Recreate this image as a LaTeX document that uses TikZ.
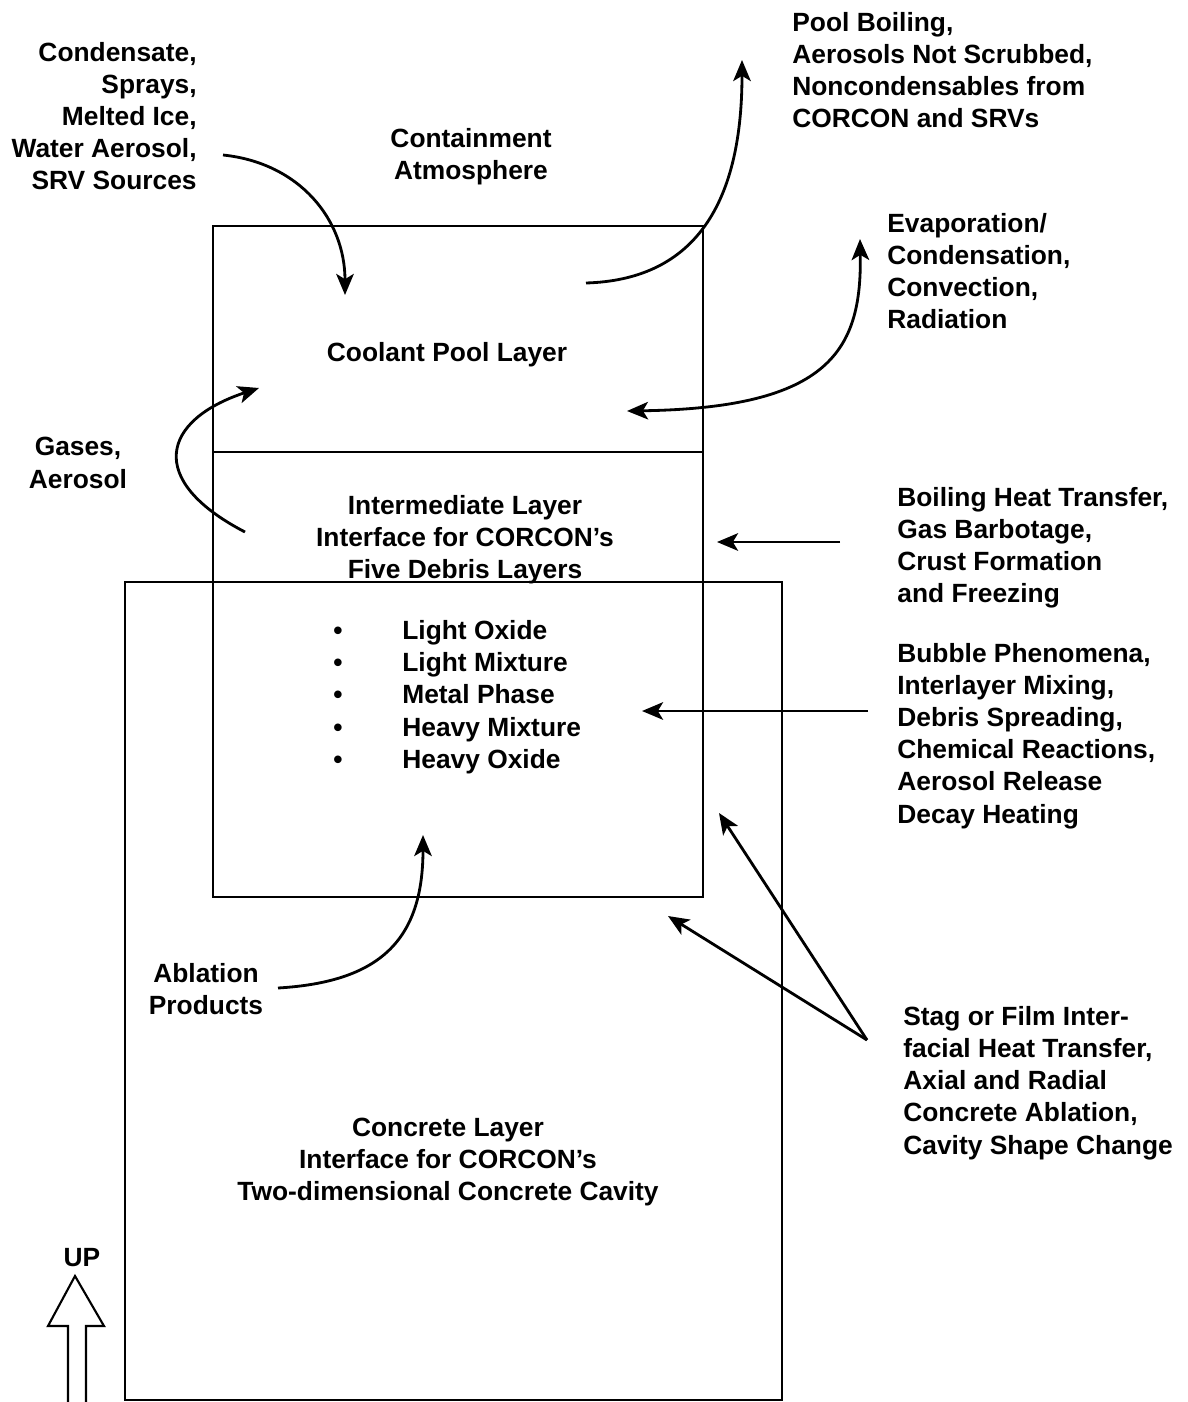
\documentclass[tikz,border=0pt]{standalone}
\usepackage{fontspec}
\setmainfont{Liberation Sans}
\usetikzlibrary{arrows.meta}
\begin{document}
\begin{tikzpicture}[x=0.02cm,y=-0.02cm,
  txt/.style={font=\fontsize{15}{18.3}\selectfont\bfseries, inner sep=0pt},
  boxline/.style={line width=1.6pt},
  arr/.style={line width=1.6pt, -{Stealth[length=12pt,width=10pt,inset=3pt]}},
  darr/.style={line width=1.6pt, {Stealth[length=12pt,width=10pt,inset=3pt]}-{Stealth[length=12pt,width=10pt,inset=3pt]}}]
\useasboundingbox (0,0) rectangle (1187,1402);

% boxes
\draw[boxline] (213,226) rectangle (703,897);
\draw[boxline] (213,452) -- (703,452);
\draw[boxline] (125,1400) -- (125,582) -- (782,582) -- (782,1400) -- cycle;

% texts
\node[txt, anchor=east, align=right] (cond) at (197,116) {Condensate,\\Sprays,\\Melted Ice,\\Water Aerosol,\\SRV Sources};
\node[txt, align=center] (atm) at (471,157) {Containment\\Atmosphere};
\node[txt, anchor=west, align=left] (pool) at (792,70) {Pool Boiling,\\Aerosols Not Scrubbed,\\Noncondensables from\\CORCON and SRVs};
\node[txt, anchor=west, align=left] (evap) at (887,271) {Evaporation/\\Condensation,\\Convection,\\Radiation};
\node[txt] (cool) at (447,355) {Coolant Pool Layer};
\node[txt, align=center] (gas) at (78,463) {Gases,\\Aerosol};
\node[txt, align=center] (inter) at (465,540) {Intermediate Layer\\Interface for CORCON's\\Five Debris Layers};
\node[txt, anchor=west, align=left] (boil) at (897,548) {Boiling Heat Transfer,\\Gas Barbotage,\\Crust Formation\\and Freezing};
\node[txt, anchor=base] (b1) at (338,639) {\textbullet};
\node[txt, anchor=base] (b2) at (338,671) {\textbullet};
\node[txt, anchor=base] (b3) at (338,703) {\textbullet};
\node[txt, anchor=base] (b4) at (338,736) {\textbullet};
\node[txt, anchor=base] (b5) at (338,768) {\textbullet};
\node[txt, anchor=base west] (l1) at (402,639) {Light Oxide};
\node[txt, anchor=base west] (l2) at (402,671) {Light Mixture};
\node[txt, anchor=base west] (l3) at (402,703) {Metal Phase};
\node[txt, anchor=base west] (l4) at (402,736) {Heavy Mixture};
\node[txt, anchor=base west] (l5) at (402,768) {Heavy Oxide};
\node[txt, anchor=west, align=left] (bub) at (897,736) {Bubble Phenomena,\\Interlayer Mixing,\\Debris Spreading,\\Chemical Reactions,\\Aerosol Release\\Decay Heating};
\node[txt, align=center] (abl) at (206,989) {Ablation\\Products};
\node[txt, anchor=west, align=left] (stag) at (903,1083) {Stag or Film Inter-\\facial Heat Transfer,\\Axial and Radial\\Concrete Ablation,\\Cavity Shape Change};
\node[txt, align=center] (conc) at (448,1162) {Concrete Layer\\Interface for CORCON's\\Two-dimensional Concrete Cavity};
\node[txt] (up) at (82,1258) {UP};

% connector end points
\coordinate (c1s) at (223,155);
\coordinate (c1e) at (345,295);
\coordinate (c2s) at (586,283);
\coordinate (c2e) at (742,60);
\coordinate (c3a) at (627,411);
\coordinate (c3b) at (860,239);
\coordinate (c4s) at (245,532);
\coordinate (c4e) at (259,388);
\coordinate (c5s) at (840,542);
\coordinate (c5e) at (717,542);
\coordinate (c6s) at (868,711);
\coordinate (c6e) at (642,711);
\coordinate (c7s) at (278,988);
\coordinate (c7e) at (423,835);
\coordinate (c8s) at (867,1040);
\coordinate (c8a) at (719,813);
\coordinate (c8b) at (668,916);

% connectors
\draw[arr] (c1s) .. controls (300,163) and (345,220) .. (c1e);
\draw[arr] (c2s) .. controls (690,280) and (742,210) .. (c2e);
\draw[darr] (c3a) .. controls (830,408) and (862,350) .. (c3b);
\draw[arr] (c4s) .. controls (145,480) and (162,420) .. (c4e);
\draw[arr] (c5s) -- (c5e);
\draw[arr] (c6s) -- (c6e);
\draw[arr] (c7s) .. controls (380,982) and (423,940) .. (c7e);
\draw[arr] (c8s) -- (c8a);
\draw[arr] (c8s) -- (c8b);

% UP arrow
\draw[line width=1.2pt, line join=miter] (68,1402) -- (68,1326) -- (48,1326) -- (75,1276) -- (104,1326) -- (86,1326) -- (86,1402);
\end{tikzpicture}
\end{document}
